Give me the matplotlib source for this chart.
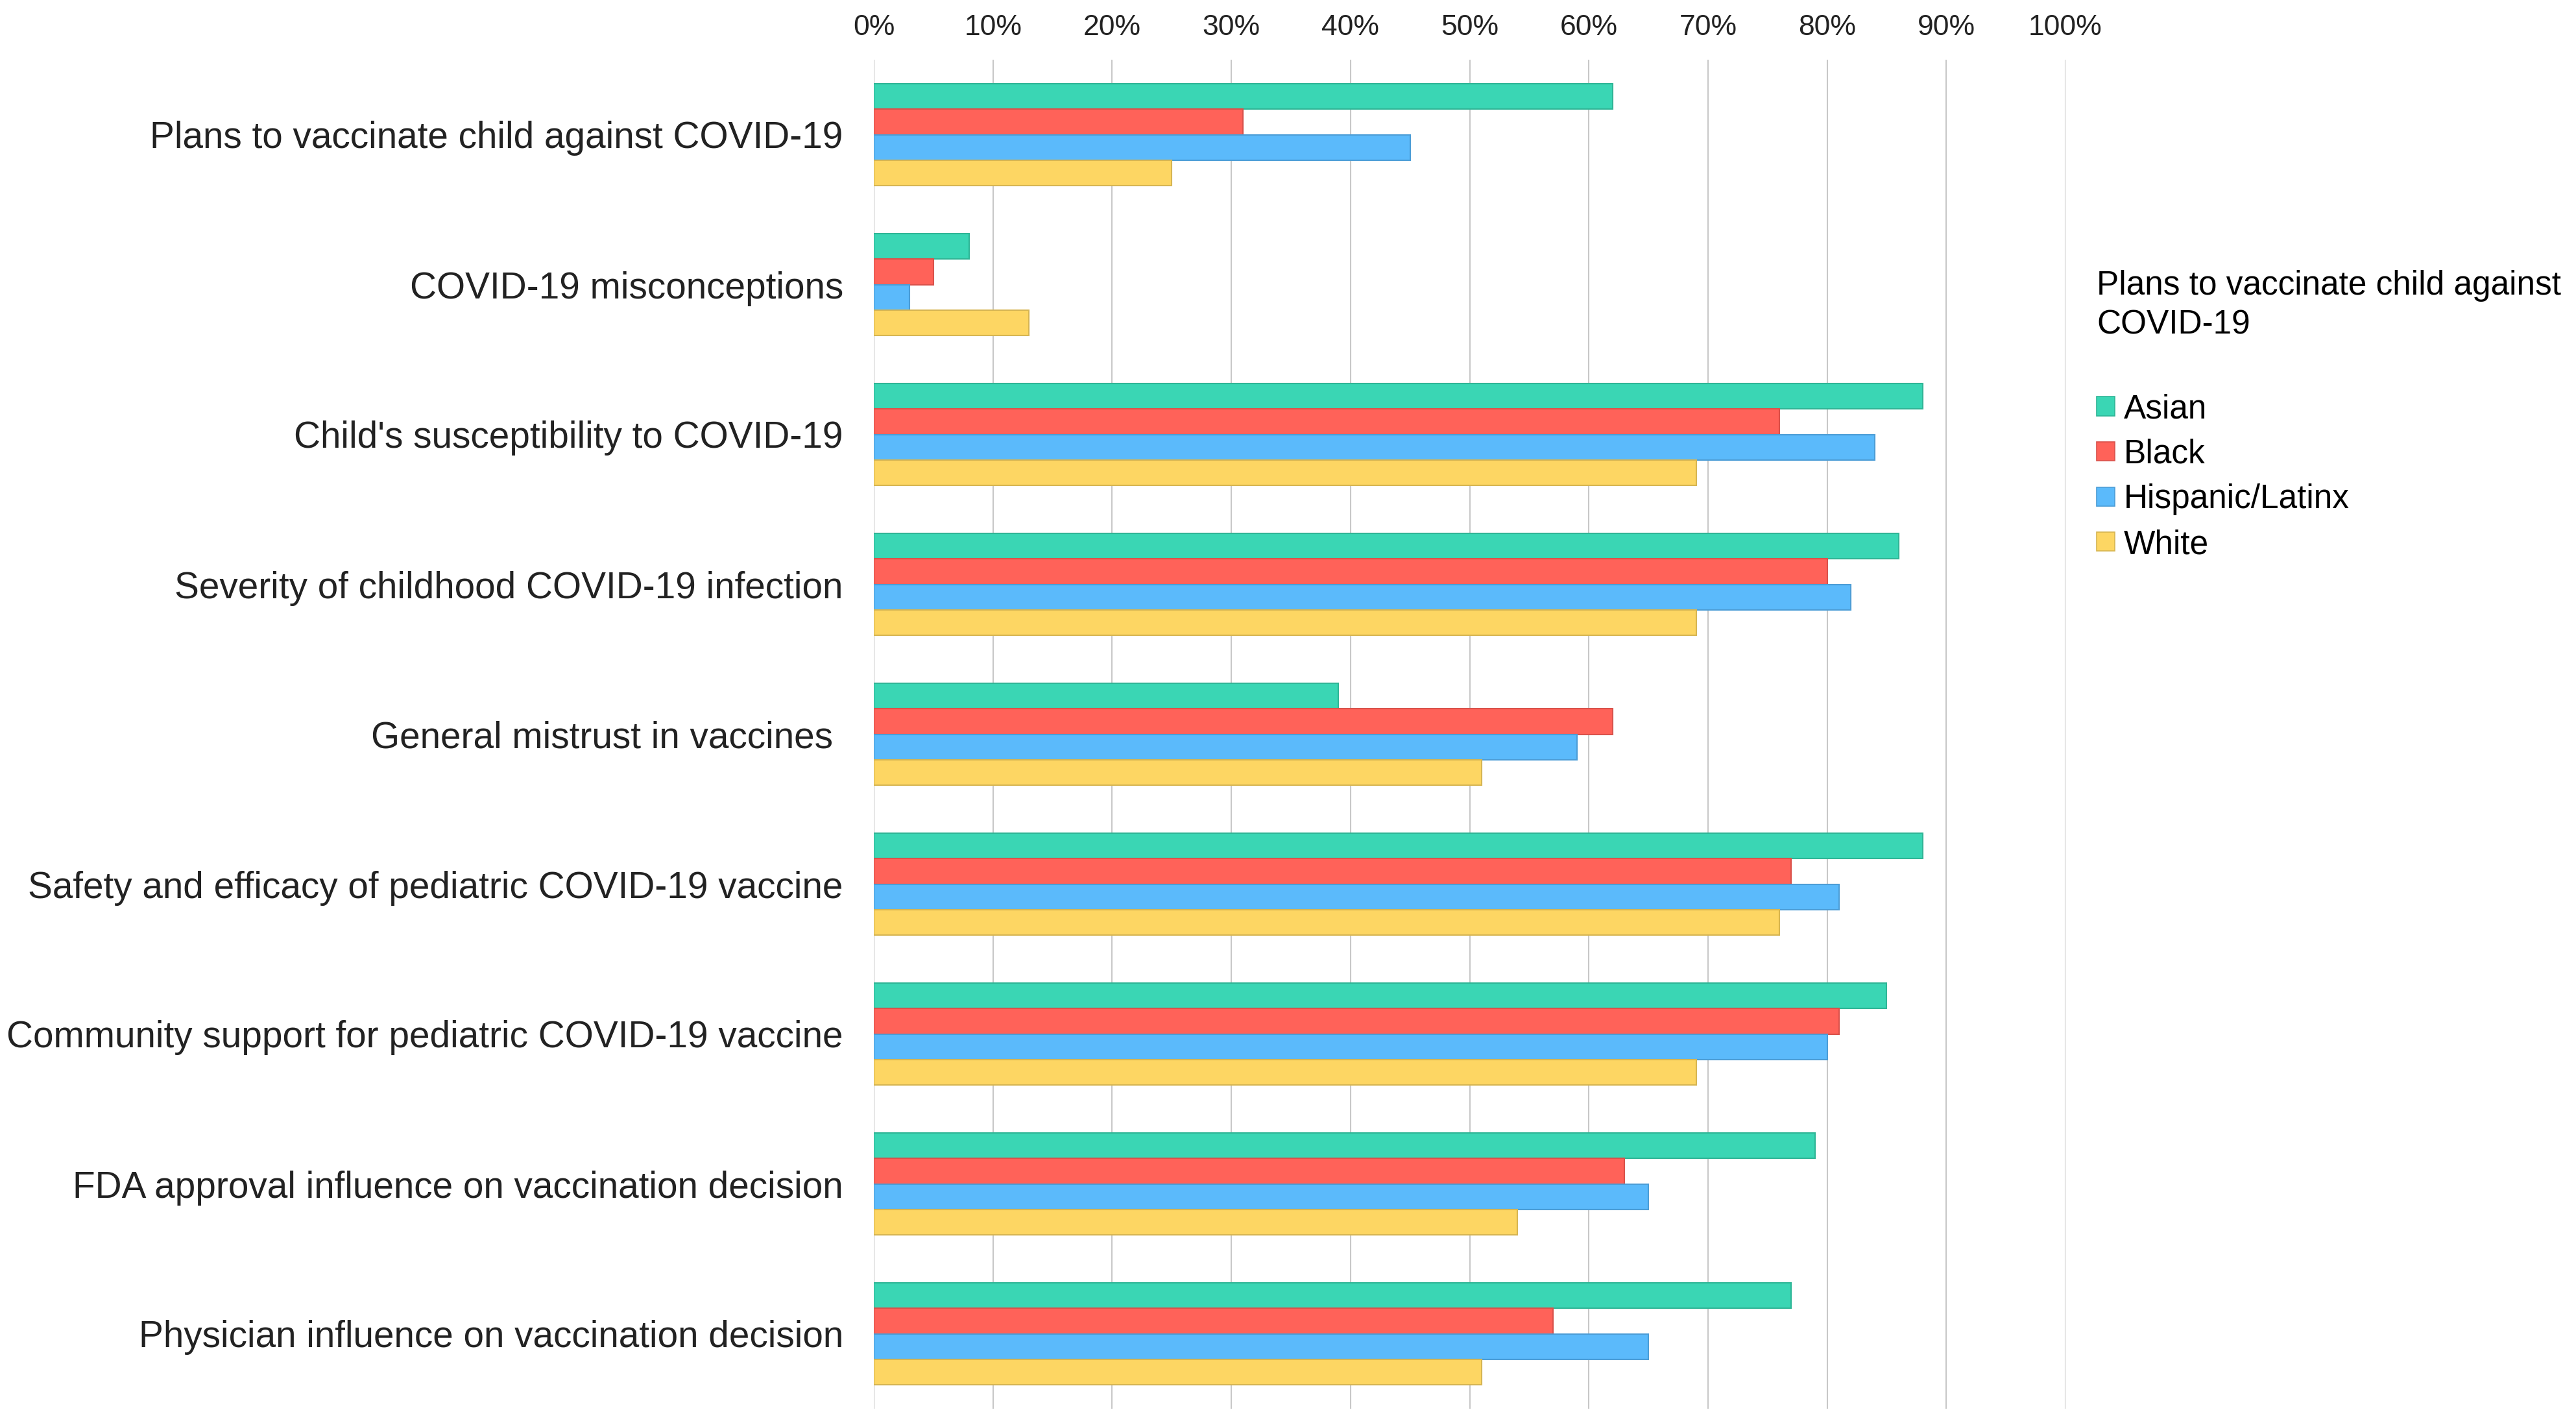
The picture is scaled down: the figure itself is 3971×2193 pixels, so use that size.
import matplotlib
matplotlib.use("Agg")
import matplotlib.pyplot as plt
import numpy as np
from matplotlib.patches import Patch

plt.rcParams['font.family'] = ['Liberation Sans', 'DejaVu Sans']

categories = [
    "Plans to vaccinate child against COVID-19",
    "COVID-19 misconceptions",
    "Child's susceptibility to COVID-19",
    "Severity of childhood COVID-19 infection",
    "General mistrust in vaccines ",
    "Safety and efficacy of pediatric COVID-19 vaccine",
    "Community support for pediatric COVID-19 vaccine",
    "FDA approval influence on vaccination decision",
    "Physician influence on vaccination decision",
]
series_names = ["Asian", "Black", "Hispanic/Latinx", "White"]
asian = [62, 8, 88, 86, 39, 88, 85, 79, 77]
black = [31, 5, 76, 80, 62, 77, 81, 63, 57]
hispanic = [45, 3, 84, 82, 59, 81, 80, 65, 65]
white = [25, 13, 69, 69, 51, 76, 69, 54, 51]
xticks = [0, 10, 20, 30, 40, 50, 60, 70, 80, 90, 100]
legend_title = "Plans to vaccinate child against\nCOVID-19\n"

colors = ["#3AD6B4", "#FF6259", "#5BBAFB", "#FDD663"]
edges = ["#2FB596", "#D9524B", "#4C9DD6", "#D6B552"]

W, H = 3971, 2193
fig = plt.figure(figsize=(W / 100, H / 100), dpi=100)
ax = fig.add_axes([1347 / W, 1 - 2171 / H, (3184 - 1347) / W, (2171 - 92) / H])

y = np.arange(len(categories))
h = 0.17
data = [asian, black, hispanic, white]
for k, vals in enumerate(data):
    ax.barh(y + (k - 1.5) * h, vals, height=h, color=colors[k],
            edgecolor=edges[k], linewidth=1.5, zorder=3)

ax.set_xlim(0, 100)
ax.set_ylim(len(categories) - 0.5, -0.5)
ax.set_xticks(xticks)
ax.set_xticklabels([f"{t}%" for t in xticks])
ax.xaxis.tick_top()
ax.tick_params(axis='x', length=0, pad=21, labelsize=32, colors='#222222')
ax.set_yticks(y)
ax.set_yticklabels(categories)
ax.tick_params(axis='y', length=0, pad=34, labelsize=40.85, colors='#222222')
ax.grid(axis='x', color='#c8c8c8', linewidth=1.5, zorder=0)
ax.grid(axis='y', visible=False)
for s in ax.spines.values():
    s.set_visible(False)

handles = [Patch(facecolor=colors[k], edgecolor=edges[k], linewidth=1.2)
           for k in range(4)]
leg = fig.legend(handles, series_names, title=legend_title,
                 loc='upper left', bbox_to_anchor=(3232 / W, 1 - 416 / H),
                 frameon=False, fontsize=37, title_fontsize=37,
                 borderpad=0, borderaxespad=0, handlelength=0.55,
                 handleheight=0.5, handletextpad=0.27, labelspacing=0.40)
leg.get_title().set_linespacing(1.3)
leg._legend_box.align = "left"

fig.savefig("out.png", dpi=100, facecolor='white')
